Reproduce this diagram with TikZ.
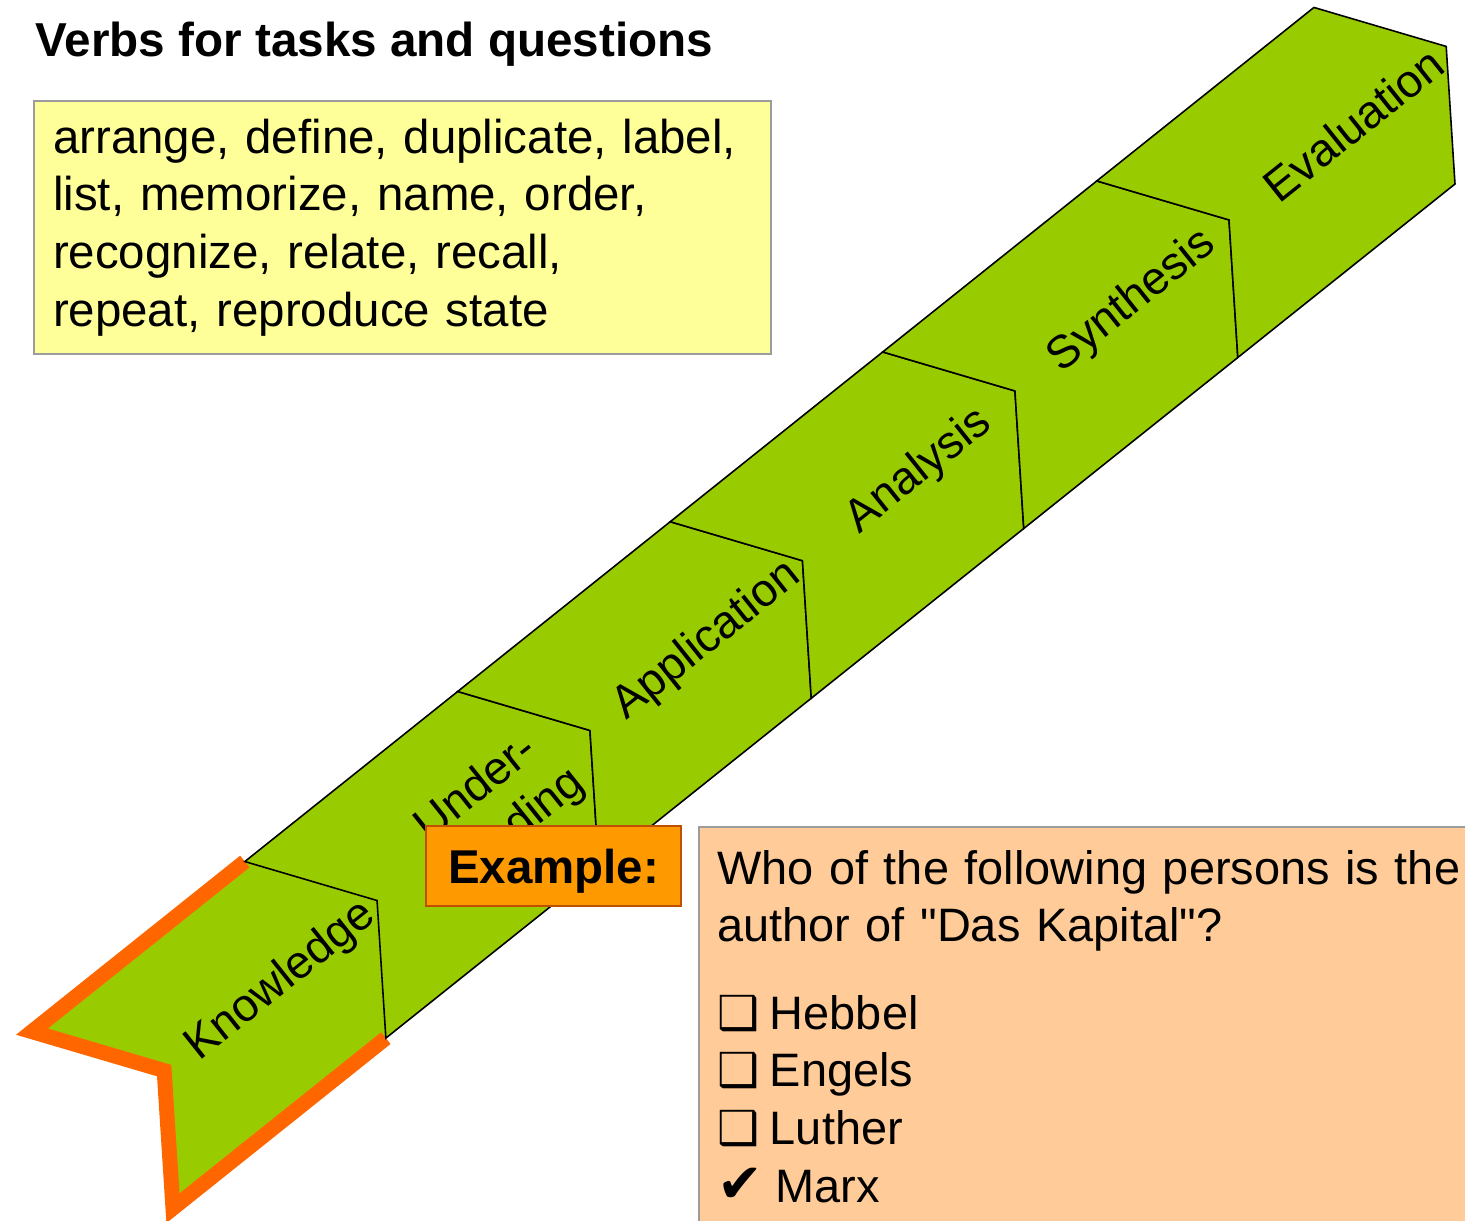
\documentclass[tikz,border=0pt]{standalone}
\usepackage{fontspec}
\setmainfont{Liberation Sans}[Ligatures=TeXOff]
\newfontfamily\dingfont{DejaVu Sans}

\definecolor{stagegreen}{HTML}{99CC00}
\definecolor{hiorange}{HTML}{FF6600}
\definecolor{exorange}{HTML}{FF9900}
\definecolor{exborder}{HTML}{BF5000}
\definecolor{qpeach}{HTML}{FFCC99}
\definecolor{verbyellow}{HTML}{FFFF99}
\definecolor{boxgray}{HTML}{9C9C9C}

\newcommand{\openbox}{{\dingfont ❑}\hspace{0.23em}}
\newcommand{\tickmark}{{\dingfont\fontsize{15.5}{16}\selectfont ✔}\hspace{0.27em}}

\begin{document}
\begin{tikzpicture}[
  stage/.style={fill=stagegreen, draw=black, line width=0.45pt, line join=miter},
  stagelabel/.style={font=\fontsize{13.1}{15.7}\selectfont, align=center, inner sep=0pt},
  textbox/.style={draw=boxgray, line width=0.6pt, font=\fontsize{13.5}{16.4}\selectfont, align=left}
]

  \useasboundingbox (0,0) rectangle (14.65,12.21);
  \clip (0,0) rectangle (14.65,12.21);

  \node[anchor=base west, inner sep=0pt, font=\fontsize{13.55}{16}\selectfont\bfseries] (title) at (0.35,11.64) {Verbs for tasks and questions};

  \node[textbox, fill=verbyellow, anchor=north west, text width=6.99cm, inner xsep=0.19cm, minimum height=2.53cm] (verbs) at (0.33,11.21)
  {arrange, define, duplicate, label,\\ list, memorize, name, order,\\ recognize, relate, recall,\\ repeat, reproduce state};

  % the staircase of levels, drawn along its own axis
  \begin{scope}[shift={(0,12.21)}, rotate=38.62, transform shape]
    \fill[stagegreen] (-6.19,-8.26) -- (-3.465,-8.26) -- (-2.675,-9.39) -- (-3.465,-10.52) -- (-6.19,-10.52) -- (-5.40,-9.39) -- cycle;
    \draw[hiorange, line width=0.15cm, line join=miter] (-3.465,-8.26) -- (-6.19,-8.26) -- (-5.40,-9.39) -- (-6.19,-10.52) -- (-3.465,-10.52);

    \foreach \a/\b in {-3.465/-0.74, -0.74/1.98, 1.98/4.70, 4.70/7.44, 7.44/10.22}
      \draw[stage] (\a,-8.26) -- (\b,-8.26) -- ({\b+0.79},-9.39) -- (\b,-10.52) -- (\a,-10.52) -- ({\a+0.79},-9.39) -- cycle;

    \node[stagelabel] (knowledge) at (-3.925,-9.42) {Knowledge};
    \node[stagelabel] (understanding) at (-1.20,-9.42) {Under-\\standing};
    \node[stagelabel] (application) at (1.525,-9.42) {Application};
    \node[stagelabel] (analysis) at (4.24,-9.42) {Analysis};
    \node[stagelabel] (synthesis) at (6.96,-9.42) {Synthesis};
    \node[stagelabel] (evaluation) at (9.80,-9.42) {Evaluation};
  \end{scope}

  \node[draw=exborder, fill=exorange, line width=0.6pt, minimum width=2.55cm, minimum height=0.80cm, text depth=0pt,
        font=\fontsize{13.5}{16}\selectfont\bfseries] (example) at (5.535,3.55) {Example:};

  \node[textbox, fill=qpeach, anchor=north west, text width=8.2cm, inner xsep=0.18cm, inner ysep=0.23cm,
        font=\fontsize{13.35}{16.4}\selectfont] (question) at (6.98,3.95)
  {Who of the following persons is the\\
   author of "Das Kapital"?\\[0.3cm]
   \openbox Hebbel\\
   \openbox Engels\\
   \openbox Luther\\
   \tickmark Marx};

\end{tikzpicture}
\end{document}
